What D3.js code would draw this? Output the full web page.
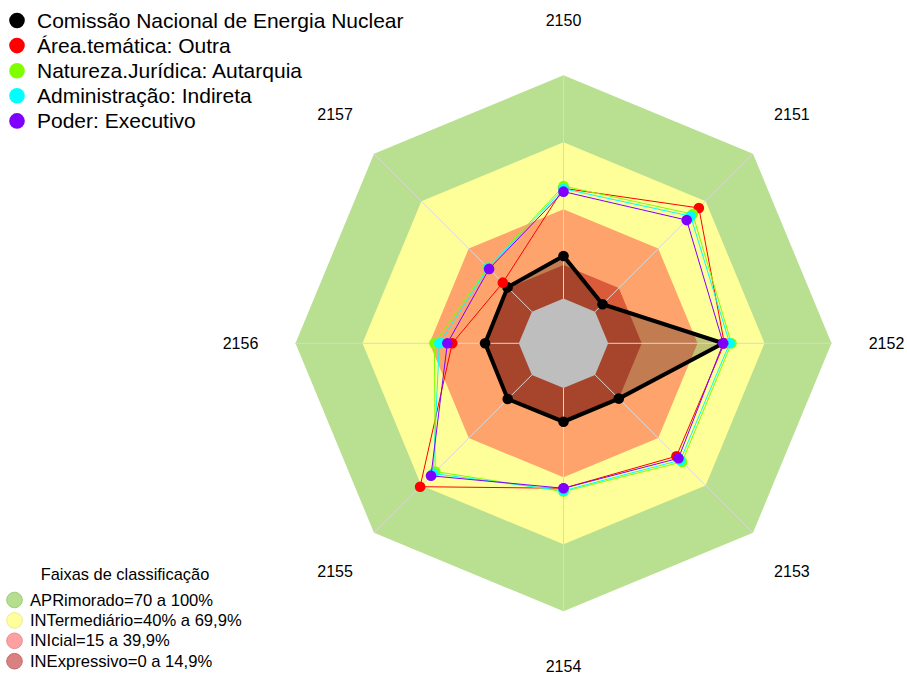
<!DOCTYPE html>
<html>
<head>
<meta charset="utf-8">
<script src="https://cdn.jsdelivr.net/npm/d3@7"></script>
<style>
  body { margin: 0; background: #fff; }
  text { font-family: "Liberation Sans", Arial, sans-serif; fill: #000; }
</style>
</head>
<body>
<script>
// axes of the radar
const axes = ["2150", "2151", "2152", "2153", "2154", "2155", "2156", "2157"];

// series (percent)
const seriesNames = ["Comissão Nacional de Energia Nuclear", "Área.temática: Outra",
  "Natureza.Jurídica: Autarquia", "Administração: Indireta", "Poder: Executivo"];
const seriesColors = ["#000000", "#FF0000", "#80FF00", "#00FFFF", "#8000FF"];
const cnen       = [19.1, 4.7, 51.5, 15.0, 15.1, 15.3, 15.1, 15.4];
const areaOutra  = [49.4, 65.7, 52.0, 51.5, 44.9, 70.8, 29.8, 18.4];
const natAutarq  = [50.4, 61.8, 55.2, 55.1, 46.4, 61.2, 37.8, 28.0];
const admIndir   = [49.2, 60.5, 54.4, 54.0, 46.0, 62.5, 35.6, 27.8];
const podExec    = [47.9, 58.0, 51.5, 52.8, 44.9, 63.9, 32.0, 27.1];
const seriesValues = [cnen, areaOutra, natAutarq, admIndir, podExec];

// classification bands
const bandTops   = [100, 70, 40, 15];
const bandFills  = ["#B9E090", "#FFFF99", "#FFA36C", "#DB5A3A"];
const bandLabels = ["APRimorado=70 a 100%", "INTermediário=40% a 69,9%", "INIcial=15 a 39,9%", "INExpressivo=0 a 14,9%"];
const bandLegendFill = ["#B5DE8F", "#FFFF9C", "#FFA0A0", "#D98080"];
const bandLegendStroke = ["#9FCB78", "#EDED85", "#EE8C8C", "#C56A6A"];

const width = 907, height = 675;
const cx = 563.5, cy = 343.3;

const svg = d3.select("body").append("svg").attr("width", width).attr("height", height);

const r = d3.scaleLinear().domain([0, 100]).range([44.7, 268]);
const angle = d3.scalePoint().domain(axes).range([0, 2 * Math.PI * 7 / 8]);

function pt(ax, v) {
  const a = angle(ax);
  return [cx + r(v) * Math.sin(a), cy - r(v) * Math.cos(a)];
}
const line = d3.line();

// bands
svg.selectAll(".band").data(bandTops).enter().append("path")
  .attr("class", "band")
  .attr("d", v => line(axes.map(a => pt(a, v))) + "Z")
  .attr("fill", (d, i) => bandFills[i]);

// black series fill
svg.append("path")
  .attr("d", line(axes.map((a, i) => pt(a, cnen[i]))) + "Z")
  .attr("fill", "rgba(0,0,0,0.24)");

// gray center
svg.append("path")
  .attr("d", line(axes.map(a => pt(a, 0))) + "Z")
  .attr("fill", "#BEBEBE");

// spokes
svg.selectAll(".spoke").data(axes).enter().append("line")
  .attr("x1", a => pt(a, 0)[0]).attr("y1", a => pt(a, 0)[1])
  .attr("x2", a => pt(a, 100)[0]).attr("y2", a => pt(a, 100)[1])
  .attr("stroke", "#D8D8D8").attr("stroke-width", 1);

// series lines and points
seriesValues.forEach((vals, s) => {
  const pts = axes.map((a, i) => pt(a, vals[i]));
  svg.append("path")
    .attr("d", line(pts) + "Z")
    .attr("fill", "none")
    .attr("stroke", seriesColors[s])
    .attr("stroke-width", s === 0 ? 4 : 1);
  svg.selectAll(".p" + s).data(pts).enter().append("circle")
    .attr("cx", d => d[0]).attr("cy", d => d[1])
    .attr("r", 5.3)
    .attr("fill", seriesColors[s]);
});

// axis labels
const labelR = 323;
svg.selectAll(".axlab").data(axes).enter().append("text")
  .attr("x", a => cx + labelR * Math.sin(angle(a)))
  .attr("y", a => cy - labelR * Math.cos(angle(a)))
  .attr("text-anchor", "middle")
  .attr("dominant-baseline", "central")
  .style("font-size", "16px")
  .text(a => a);

// top legend
const leg = svg.append("g");
seriesNames.forEach((n, i) => {
  const y = 20.5 + i * 25.1;
  leg.append("circle").attr("cx", 17).attr("cy", y).attr("r", 7.8).attr("fill", seriesColors[i]);
  leg.append("text").attr("x", 37).attr("y", y).attr("dominant-baseline", "central")
    .style("font-size", "21px").text(n);
});

// bottom legend
svg.append("text").attr("x", 125).attr("y", 574).attr("text-anchor", "middle")
  .attr("dominant-baseline", "central").style("font-size", "16.4px").text("Faixas de classificação");
bandLabels.forEach((n, i) => {
  const y = 600 + i * 20.4;
  svg.append("circle").attr("cx", 14.5).attr("cy", y).attr("r", 7.8)
    .attr("fill", bandLegendFill[i]).attr("stroke", bandLegendStroke[i]).attr("stroke-width", 1);
  svg.append("text").attr("x", 30).attr("y", y).attr("dominant-baseline", "central")
    .style("font-size", "16.6px").text(n);
});
</script>
</body>
</html>
